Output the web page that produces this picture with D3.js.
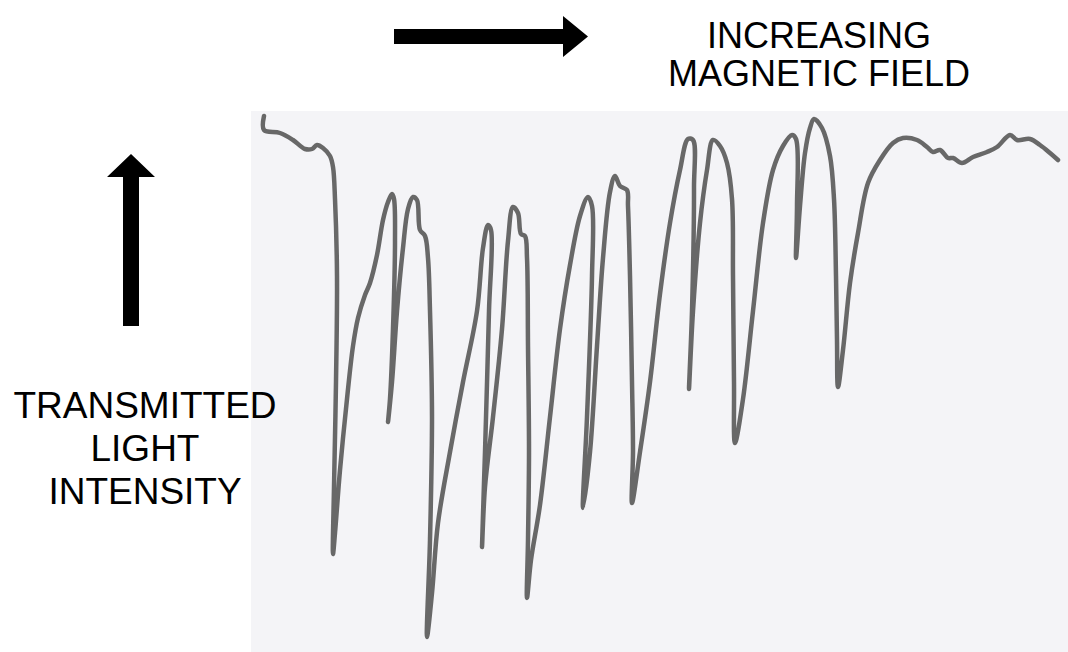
<!DOCTYPE html>
<html>
<head>
<meta charset="utf-8">
<script src="https://cdn.jsdelivr.net/npm/d3@7"></script>
<style>
	body { margin: 0; background: #ffffff; }
	#graphic { width: 1068px; height: 652px; }
	text { font-family: "Liberation Sans", Arial, sans-serif; fill: #000; }
</style>
</head>
<body>
<div id="graphic"></div>
<script>
// magnetic field position along the chart-recorder trace (arbitrary units)
const field = [
	14, 14, 30, 43, 55, 62, 67, 73, 80, 83, 85, 87, 86, 84, 83,
	85, 90, 97, 103, 108, 115, 120, 127, 133, 138, 142, 144, 145, 143, 140, 138,
	142, 147, 153, 158, 163, 167, 170, 175, 178, 180, 182, 180, 177,
	182, 188, 200, 213, 227, 233, 238, 241, 239, 235, 232,
	235, 243, 252, 258, 263, 268, 271, 275, 277, 278, 279, 278, 277,
	281, 290, 300, 310, 320, 330, 338, 342, 342, 337, 333,
	340, 347, 353, 360, 365, 370, 377, 378, 380, 382, 383, 382,
	390, 400, 410, 420, 430, 438, 443, 444, 442, 439,
	443, 450, 457, 463, 470, 477, 482, 483, 484, 485,
	493, 503, 513, 523, 533, 542, 546, 547, 546,
	550, 555, 560, 564, 572, 580, 584, 586, 587, 588,
	593, 600, 608, 618, 630, 643, 653, 667, 677, 683, 690, 698, 703, 712,
	723, 737, 747, 760, 767, 780, 790, 800, 808
];

// transmitted light intensity at each of those positions (arbitrary units)
const intensity = [
	536, 522, 519, 512, 503, 503, 507, 504, 496, 485, 453, 376, 270, 165, 98,
	119, 182, 253, 306, 334, 357, 369, 397, 432, 450, 458, 453, 411, 323, 253, 230,
	270, 341, 404, 443, 455, 452, 422, 416, 394, 341, 235, 112, 15,
	59, 129, 200, 270, 341, 404, 427, 422, 341, 200, 105,
	165, 235, 323, 411, 445, 439, 418, 416, 394, 306, 200, 112, 54,
	92, 147, 235, 323, 387, 436, 455, 446, 376, 235, 144,
	200, 306, 394, 460, 476, 466, 462, 446, 376, 270, 200, 149,
	200, 270, 358, 429, 482, 513, 512, 464, 341, 263,
	341, 429, 482, 512, 506, 489, 453, 376, 270, 209,
	253, 341, 429, 482, 506, 517, 513, 446, 394,
	446, 499, 524, 533, 524, 496, 453, 376, 312, 265,
	302, 369, 419, 469, 492, 509, 514, 512, 505, 500, 502, 494, 494, 489,
	495, 500, 505, 517, 512, 513, 507, 499, 492
];

const fieldLabel = ["INCREASING", "MAGNETIC FIELD"];
const intensityLabel = ["TRANSMITTED", "LIGHT", "INTENSITY"];

const graphic = d3.select('#graphic');
const width = 1068;
const height = 652;

// scanned paper area that holds the trace
const paper = { left: 251, top: 111, right: 1068, bottom: 652 };

const svg = graphic
	.append('svg')
	.attr('width', width)
	.attr('height', height);

const x = d3.scaleLinear()
	.domain([0, 817])
	.range([paper.left - 1, paper.right - 1]);

const y = d3.scaleLinear()
	.domain([0, 541])
	.range([paper.bottom, paper.top]);

svg.append('rect')
	.attr('x', paper.left)
	.attr('y', paper.top)
	.attr('width', paper.right - paper.left)
	.attr('height', paper.bottom - paper.top)
	.attr('fill', '#f4f4f7');

const trace = field.map((f, i) => ({ field: f, value: intensity[i] }));

const line = d3.line()
	.x((d) => x(d.field))
	.y((d) => y(d.value))
	.curve(d3.curveCatmullRom.alpha(0.5));

svg.append('path')
	.datum(trace)
	.attr('d', line)
	.attr('fill', 'none')
	.attr('stroke', '#686868')
	.attr('stroke-width', 4.5)
	.attr('stroke-linejoin', 'round')
	.attr('stroke-linecap', 'round');

// horizontal arrow (field direction)
svg.append('path')
	.attr('d', 'M394,29 L563,29 L563,16 L588,36.5 L563,57 L563,44 L394,44 Z')
	.attr('fill', '#000');

// vertical arrow (intensity direction)
svg.append('path')
	.attr('d', 'M123,326 L123,177 L107,177 L131,154 L155,177 L139,177 L139,326 Z')
	.attr('fill', '#000');

svg.append('g')
	.selectAll('text')
	.data(fieldLabel)
	.join('text')
	.attr('x', 819)
	.attr('y', (d, i) => 48 + i * 38)
	.attr('text-anchor', 'middle')
	.attr('font-size', 36)
	.text((d) => d);

svg.append('g')
	.selectAll('text')
	.data(intensityLabel)
	.join('text')
	.attr('x', 145)
	.attr('y', (d, i) => 418 + i * 43)
	.attr('text-anchor', 'middle')
	.attr('font-size', 37)
	.text((d) => d);
</script>
</body>
</html>
